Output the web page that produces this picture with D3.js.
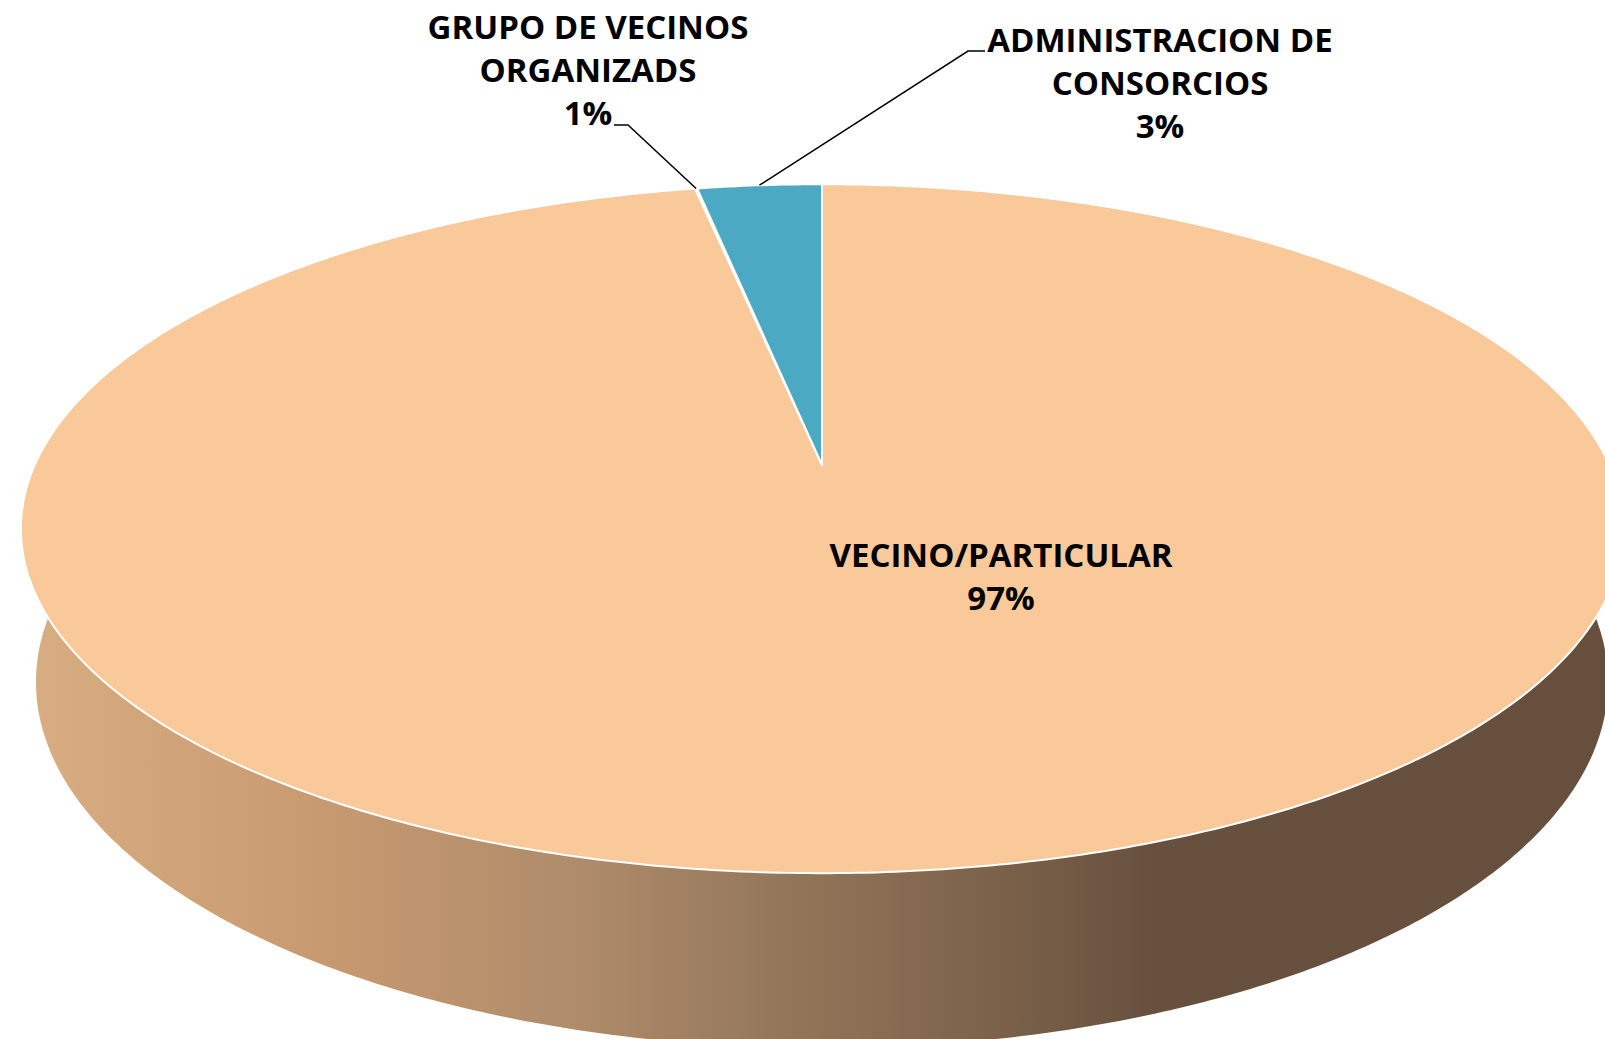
<!DOCTYPE html>
<html>
<head>
<meta charset="utf-8">
<script src="https://cdn.jsdelivr.net/npm/d3@7"></script>
<style>
  html, body { margin: 0; padding: 0; background: #ffffff; }
  svg { display: block; }
  text { font-family: "Open Sans", Lato, sans-serif; font-weight: 700; fill: #000; }
</style>
</head>
<body>
<script>
// ---------- data ----------
const categories = ["VECINO/PARTICULAR", "GRUPO DE VECINOS ORGANIZADS", "ADMINISTRACION DE CONSORCIOS"];
const values = [96.95, 0.05, 3.0];
const percentLabels = ["97%", "1%", "3%"];
const labelLines = [["VECINO/PARTICULAR"], ["GRUPO DE VECINOS", "ORGANIZADS"], ["ADMINISTRACION DE", "CONSORCIOS"]];
const sliceColors = ["#F9C99A", "#F9C99A", "#4BA9C4"];

// ---------- layout ----------
const W = 1605, H = 1039;
const cx = 822, cy = 465;           // apex of the pie on screen
const tilt = 25 * Math.PI / 180;     // viewing angle
const camD = 4.903;                  // perspective distance (in radii)
const scl = 3860;                    // projection scale
const thick = 0.215;                 // pie thickness (in radii)
const sinA = Math.sin(tilt), cosA = Math.cos(tilt);

function project(theta, z) {
  const X = Math.sin(theta), Y = Math.cos(theta);
  const v = Y * sinA + z * cosA;
  const w = Y * cosA - z * sinA;
  return [cx + scl * X / (camD + w), cy - scl * v / (camD + w)];
}

const svg = d3.select("body").append("svg")
  .attr("width", W).attr("height", H)
  .attr("viewBox", `0 0 ${W} ${H}`);

// side gradient
const defs = svg.append("defs");
const grad = defs.append("linearGradient")
  .attr("id", "sideGrad")
  .attr("gradientUnits", "userSpaceOnUse")
  .attr("x1", 0).attr("y1", 0).attr("x2", W).attr("y2", 0);
const gradStops = [
  [20, "#d8ae82"], [300, "#c99b71"], [570, "#b08c6b"], [800, "#917559"],
  [1000, "#7b614a"], [1150, "#67513e"], [1605, "#66503d"]
];
gradStops.forEach(([x, c]) => grad.append("stop").attr("offset", x / W).attr("stop-color", c));

const pie = d3.pie().sort(null).value(d => d).startAngle(0).endAngle(2 * Math.PI);
const arcs = pie(values);
const line = d3.line();

function arcPoints(a0, a1, z) {
  const n = Math.max(2, Math.ceil(Math.abs(a1 - a0) / 0.01));
  return d3.range(n + 1).map(i => project(a0 + (a1 - a0) * i / n, z));
}

// outer wall (front, visible part)
const wallG = svg.append("g");
arcs.forEach((a, i) => {
  const lo = Math.max(a.startAngle, Math.PI / 2 - 0.15);
  const hi = Math.min(a.endAngle, 3 * Math.PI / 2 + 0.15);
  if (hi <= lo) return;
  const top = arcPoints(lo, hi, 0);
  const bot = arcPoints(hi, lo, -thick);
  wallG.append("path")
    .attr("d", line(top.concat(bot)) + "Z")
    .attr("fill", i === 2 ? d3.color(sliceColors[i]).darker(1) : "url(#sideGrad)");
});

// top faces
const topG = svg.append("g");
arcs.forEach((a, i) => {
  const pts = [[cx, cy]].concat(arcPoints(a.startAngle, a.endAngle, 0));
  topG.append("path")
    .attr("d", line(pts) + "Z")
    .attr("fill", sliceColors[i])
    .attr("stroke", "#ffffff")
    .attr("stroke-width", 2)
    .attr("stroke-linejoin", "round");
});

// ---------- labels ----------
const fontSize = 33;
const lineGap = 43;
const labelLayout = [
  { x: 1001, y: 567, leader: null },
  { x: 588, y: 38.5, leader: { from: [614, 125], to: [628, 125] } },
  { x: 1160, y: 51.5, leader: { from: [985, 51], to: [968, 51] } }
];

const labG = svg.append("g");
arcs.forEach((a, i) => {
  const L = labelLayout[i];
  const lines = labelLines[i].concat([percentLabels[i]]);
  const t = labG.append("text")
    .attr("text-anchor", "middle")
    .attr("font-size", fontSize);
  lines.forEach((s, k) => {
    t.append("tspan").attr("x", L.x).attr("y", L.y + k * lineGap).text(s);
  });
  if (L.leader) {
    const mid = (a.startAngle + a.endAngle) / 2;
    const anchor = project(mid, 0);
    labG.append("path")
      .attr("d", line([L.leader.from, L.leader.to, anchor]))
      .attr("fill", "none")
      .attr("stroke", "#000")
      .attr("stroke-width", 1.5);
  }
});
</script>
</body>
</html>
